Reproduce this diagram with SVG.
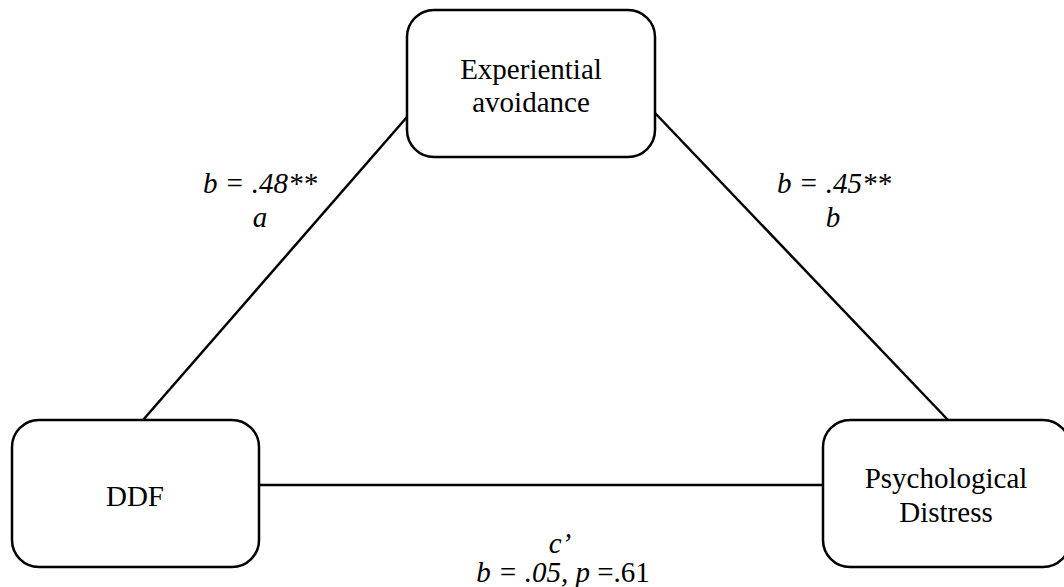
<svg xmlns="http://www.w3.org/2000/svg" width="1064" height="587" viewBox="0 0 1064 587">
<style>
.box{fill:#fff;stroke:#000;stroke-width:2.5}
.ln{stroke:#000;stroke-width:2.5;fill:none}
text{font-family:"Liberation Serif","Times New Roman",serif;font-size:29px;fill:#000;text-anchor:middle}
.it{font-style:italic}
</style>
<rect width="1064" height="587" fill="#fff"/>
<g id="connectors">
<line class="ln" x1="143" y1="420" x2="407" y2="117"/>
<line class="ln" x1="655" y1="113" x2="948" y2="420"/>
<line class="ln" x1="259" y1="485" x2="823" y2="485"/>
</g>
<g id="node-ea">
<rect class="box" x="407" y="10" width="248" height="147" rx="27"/>
<text x="531" y="79">Experiential</text>
<text x="531" y="112">avoidance</text>
</g>
<g id="node-ddf">
<rect class="box" x="12" y="420" width="247" height="147" rx="27"/>
<text x="135" y="506">DDF</text>
</g>
<g id="node-pd">
<rect class="box" x="823" y="420" width="247" height="147" rx="27"/>
<text x="946" y="488">Psychological</text>
<text x="946" y="522">Distress</text>
</g>
<g id="labels">
<text class="it" x="260" y="193">b = .48**</text>
<text class="it" x="260" y="227">a</text>
<text class="it" x="834" y="193">b = .45**</text>
<text class="it" x="833" y="227">b</text>
<text class="it" x="560" y="553">c’</text>
<text x="563" y="582"><tspan class="it">b = .05, p </tspan>=.61</text>
</g>
</svg>
